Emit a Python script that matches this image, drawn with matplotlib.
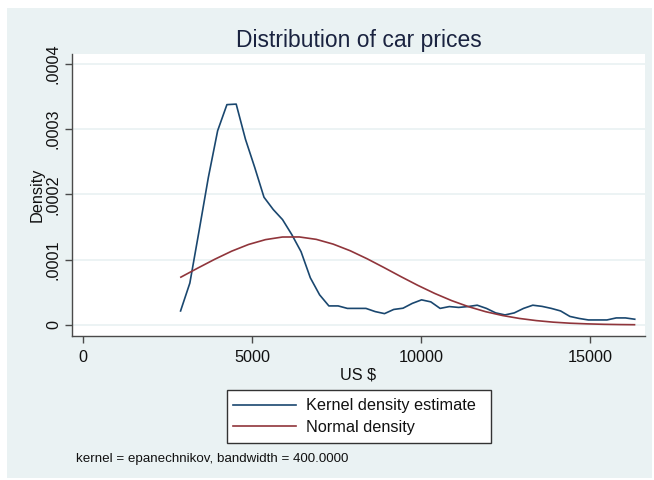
import numpy as np
import matplotlib
matplotlib.use("Agg")
import matplotlib.pyplot as plt
from matplotlib.patches import Rectangle

# ---------------- data ----------------
title = "Distribution of car prices"
xlabel = "US $"
ylabel = "Density"
note = "kernel = epanechnikov, bandwidth = 400.0000"
legend_labels = ["Kernel density estimate", "Normal density"]

x_ticks = [0, 5000, 10000, 15000]
x_ticklabels = ["0", "5000", "10000", "15000"]
y_ticks = [0, 0.0001, 0.0002, 0.0003, 0.0004]
y_ticklabels = ["0", ".0001", ".0002", ".0003", ".0004"]

kde_x = [2891, 3165, 3439, 3712, 3986, 4260, 4534, 4808, 5081, 5355,
         5629, 5903, 6177, 6450, 6724, 6998, 7272, 7546, 7819, 8093,
         8367, 8641, 8915, 9188, 9462, 9736, 10010, 10284, 10557, 10831,
         11105, 11379, 11653, 11926, 12200, 12474, 12748, 13022, 13295, 13569,
         13843, 14117, 14391, 14664, 14938, 15212, 15486, 15760, 16033, 16307]
# density in units of 1e-4
kde_y_e4 = [0.215, 0.642, 1.446, 2.262, 2.977, 3.377, 3.385, 2.846, 2.415, 1.958,
            1.769, 1.615, 1.385, 1.123, 0.723, 0.462, 0.292, 0.292, 0.254, 0.254,
            0.254, 0.205, 0.174, 0.238, 0.257, 0.331, 0.385, 0.354, 0.254, 0.282,
            0.269, 0.282, 0.303, 0.254, 0.185, 0.154, 0.185, 0.254, 0.303, 0.285,
            0.254, 0.215, 0.131, 0.100, 0.077, 0.077, 0.077, 0.108, 0.108, 0.088]

norm_x = [2900, 3400, 3900, 4400, 4900, 5400, 5900, 6400, 6900, 7400,
          7900, 8400, 8900, 9400, 9900, 10400, 10900, 11400, 11900, 12400,
          12900, 13400, 13900, 14400, 14900, 15400, 15900, 16300]
norm_y_e4 = [0.733, 0.872, 1.007, 1.131, 1.234, 1.308, 1.348, 1.349, 1.312, 1.239,
             1.138, 1.015, 0.880, 0.741, 0.607, 0.483, 0.373, 0.280, 0.204, 0.145,
             0.100, 0.067, 0.043, 0.027, 0.017, 0.010, 0.006, 0.004]

# ---------------- styling ----------------
W, H = 654, 480
BG = "#eaf2f3"
KDE_C = "#1a476f"
NORM_C = "#90353b"
TXT = "#111111"
FONT = ["Liberation Sans", "DejaVu Sans"]
plt.rcParams["font.family"] = FONT

fig = plt.figure(figsize=(W / 100, H / 100), dpi=100)
fig.patch.set_facecolor("white")

def fx(px):
    return px / W

def fy(py):
    return 1 - py / H

# outer light background
fig.patches.append(Rectangle((fx(7), fy(478)), fx(652) - fx(7), fy(8) - fy(478),
                             transform=fig.transFigure, facecolor=BG,
                             edgecolor="none", zorder=-10))

left, right, top, bottom = 72, 645, 54, 336
ax = fig.add_axes([fx(left), fy(bottom), fx(right) - fx(left), fy(top) - fy(bottom)])
ax.set_facecolor("white")

kde_y = np.array(kde_y_e4) * 1e-4
norm_y = np.array(norm_y_e4) * 1e-4

l1, = ax.plot(kde_x, kde_y, color=KDE_C, lw=1.2, zorder=3)
l2, = ax.plot(norm_x, norm_y, color=NORM_C, lw=1.2, zorder=3)

ax.set_xlim(-316, 16610)
ax.set_ylim(-0.0000169, 0.0004153)

ax.set_xticks(x_ticks)
ax.set_xticklabels(x_ticklabels)
ax.set_yticks(y_ticks)
ax.set_yticklabels(y_ticklabels, rotation=90, va="center")

for s in ["top", "right"]:
    ax.spines[s].set_visible(False)
for s in ["left", "bottom"]:
    ax.spines[s].set_color("#4a4a4a")
    ax.spines[s].set_linewidth(1.0)

ax.tick_params(axis="both", direction="out", length=5, width=1.0,
               color="#4a4a4a", labelsize=11.7, labelcolor=TXT)
ax.tick_params(axis="x", pad=5)
ax.tick_params(axis="y", pad=3)

ax.yaxis.grid(True, color=BG, lw=1.3, zorder=1)
ax.set_axisbelow(True)

ax.set_xlabel(xlabel, fontsize=11.7, color=TXT, labelpad=2)
ax.set_ylabel(ylabel, fontsize=11.7, color=TXT, labelpad=1)

fig.text(fx(359), fy(40), title, fontsize=16.5, color="#1a2340",
         ha="center", va="center")

# legend box
fig.patches.append(Rectangle((fx(226.7), fy(443.3)), fx(490.7) - fx(226.7),
                             fy(390) - fy(443.3), transform=fig.transFigure,
                             facecolor="white", edgecolor="#333333", lw=1.0,
                             zorder=1))
leg = fig.legend([l1, l2], legend_labels, loc="center left",
                 bbox_to_anchor=(fx(233), fy(416.7)), frameon=False,
                 fontsize=11.7, handlelength=3.9, handletextpad=0.62,
                 labelspacing=0.42, borderpad=0, borderaxespad=0)
leg.set_zorder(5)
for t in leg.get_texts():
    t.set_color(TXT)

fig.text(fx(76), fy(459), note, fontsize=9.6, color=TXT, ha="left", va="center")

fig.savefig("out.png", dpi=100)
